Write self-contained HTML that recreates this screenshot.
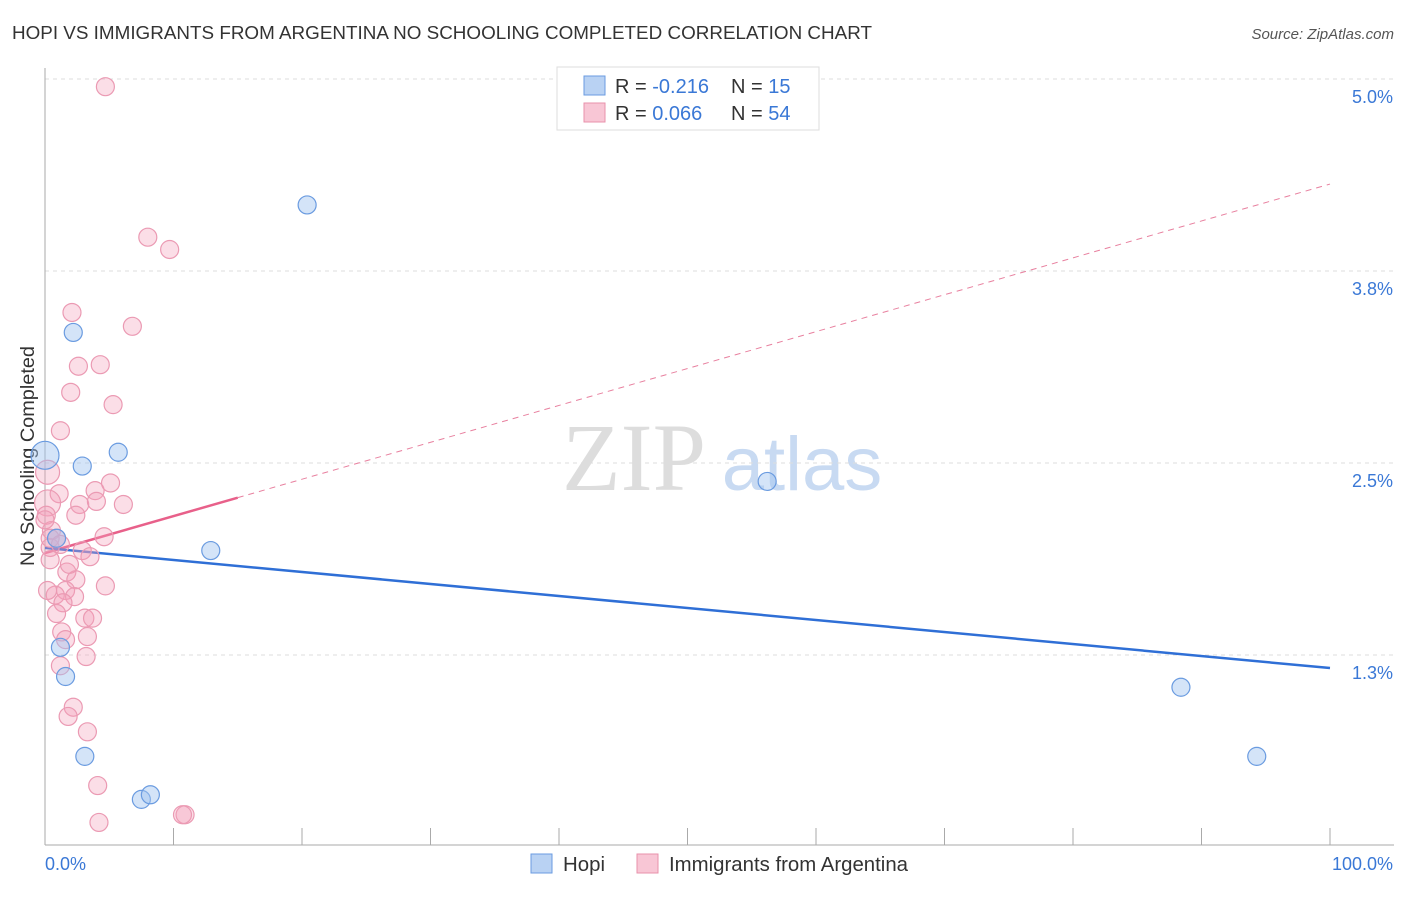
<!DOCTYPE html>
<html><head><meta charset="utf-8"><style>
body{margin:0;background:#fff;font-family:"Liberation Sans",sans-serif}
svg text{font-family:"Liberation Sans",sans-serif}
</style></head><body>
<svg id="c" width="1406" height="892" xmlns="http://www.w3.org/2000/svg">
<text x="12" y="39" font-size="18.5" fill="#333" textLength="860" lengthAdjust="spacingAndGlyphs">HOPI VS IMMIGRANTS FROM ARGENTINA NO SCHOOLING COMPLETED CORRELATION CHART</text>
<text x="1394" y="39" font-size="15" fill="#555" font-style="italic" text-anchor="end">Source: ZipAtlas.com</text>
<text transform="translate(34,456) rotate(-90)" font-size="19" fill="#333" text-anchor="middle" textLength="220" lengthAdjust="spacingAndGlyphs">No Schooling Completed</text>
<g><text x="634" y="490" font-size="96" fill="#ddd" font-family="Liberation Serif" text-anchor="middle" style="font-family:'Liberation Serif',serif">ZIP</text><text x="802" y="490" font-size="76" fill="#c8daf2" text-anchor="middle">atlas</text></g>
<g id="grid"></g><g id="axes"></g><g id="trend"></g><g id="pts"></g>
<g>
<rect x="557" y="67" width="262" height="63" fill="#fff" stroke="#ddd"/>
<rect x="584" y="76" width="21" height="19" fill="#b9d2f3" stroke="#6a9be0"/>
<rect x="584" y="103" width="21" height="19" fill="#f8c6d5" stroke="#e891ab"/>
<text x="615" y="93" font-size="20" fill="#333">R = <tspan fill="#3a78d6">-0.216</tspan><tspan x="731">N = </tspan><tspan fill="#3a78d6">15</tspan></text>
<text x="615" y="120" font-size="20" fill="#333">R = <tspan fill="#3a78d6"> 0.066</tspan><tspan x="731">N = </tspan><tspan fill="#3a78d6">54</tspan></text>
</g>
<g>
<rect x="531" y="854" width="21" height="19" fill="#b9d2f3" stroke="#6a9be0"/>
<text x="563" y="871" font-size="20" fill="#333" textLength="42" lengthAdjust="spacingAndGlyphs">Hopi</text>
<rect x="637" y="854" width="21" height="19" fill="#f8c6d5" stroke="#e891ab"/>
<text x="669" y="871" font-size="20" fill="#333" textLength="239" lengthAdjust="spacingAndGlyphs">Immigrants from Argentina</text>
</g>
</svg>
<script>
const hopiX=[20.4,2.2,5.7,2.9,0,0.9,12.9,56.2,1.2,1.6,3.1,7.5,8.2,88.4,94.3];
const hopiY=[4.18,3.35,2.57,2.48,2.55,2.01,1.93,2.38,1.30,1.11,0.59,0.31,0.34,1.04,0.59];
const hopiR=[9,9,9,9,14,9,9,9,9,9,9,9,9,9,9];
const argX=[4.7,8.0,9.7,2.1,6.8,2.6,4.3,2.0,5.3,1.2,0.2,1.1,3.9,5.1,2.7,0.2,2.4,4.0,6.1,0.1,0.5,0.4,4.6,2.9,0.9,3.5,1.7,2.4,1.6,2.3,0.8,1.4,0.9,4.7,3.1,3.7,1.3,3.3,1.6,1.2,3.2,2.2,1.8,3.3,4.1,4.2,10.9,10.7,0.4,1.2,0,0.4,0.2,1.9];
const argY=[4.95,3.97,3.89,3.48,3.39,3.13,3.14,2.96,2.88,2.71,2.44,2.30,2.32,2.37,2.23,2.24,2.16,2.25,2.23,2.16,2.06,1.95,2.02,1.93,2.01,1.89,1.79,1.74,1.67,1.63,1.64,1.59,1.52,1.70,1.49,1.49,1.40,1.37,1.35,1.18,1.24,0.91,0.85,0.75,0.40,0.16,0.21,0.21,2.01,1.97,2.13,1.87,1.67,1.84];
const argR=[9,9,9,9,9,9,9,9,9,9,12,9,9,9,9,13,9,9,9,9,9,9,9,9,9,9,9,9,9,9,9,9,9,9,9,9,9,9,9,9,9,9,9,9,9,9,9,9,9,9,9,9,9,9];
const yTicks=[5.0,3.75,2.5,1.25];
const yTickLabels=["5.0%","3.8%","2.5%","1.3%"];
const hopiTrend=[1.947,1.165];
const argTrend=[1.914,4.316];
const argSolidEnd=15;
const X=v=>45+v*12.85, Y=v=>463-(v-2.5)*153.6;
const NS="http://www.w3.org/2000/svg";
function mk(p,t,a){const e=document.createElementNS(NS,t);for(const k in a)e.setAttribute(k,a[k]);document.getElementById(p).appendChild(e);return e;}
yTicks.forEach((v,i)=>{
 const l=mk('grid','line',{x1:45,x2:1394,y1:Y(v),y2:Y(v),stroke:'#ddd','stroke-dasharray':'4,4'});
 
 
 const t=mk('grid','text',{x:1393,y:Y(v)+24,'font-size':18,fill:'#3a78d6','text-anchor':'end'});t.textContent=yTickLabels[i];
 
 
});
let a=mk('axes','line',{x1:45,x2:45,y1:68,y2:845,stroke:'#aaa'});


a=mk('axes','line',{x1:45,x2:1394,y1:845,y2:845,stroke:'#aaa'});


for(let i=0;i<=10;i++){const t=mk('axes','line',{x1:X(i*10),x2:X(i*10),y1:828,y2:845,stroke:'#aaa'});
 
 }
let t=mk('axes','text',{x:45,y:870,'font-size':18,fill:'#3a78d6'});t.textContent='0.0%';


t=mk('axes','text',{x:1393,y:870,'font-size':18,fill:'#3a78d6','text-anchor':'end'});t.textContent='100.0%';


argX.forEach((x,i)=>{const c=mk('pts','circle',{cx:X(x),cy:Y(argY[i]),r:argR[i],fill:'rgba(244,160,186,0.35)',stroke:'#eb9ab3','stroke-width':1.2});
 
 });
hopiX.forEach((x,i)=>{const c=mk('pts','circle',{cx:X(x),cy:Y(hopiY[i]),r:hopiR[i],fill:'rgba(160,196,240,0.45)',stroke:'#6a9be0','stroke-width':1.2});
 
 });
const ay=p=>argTrend[0]+(argTrend[1]-argTrend[0])*p/100;
let l=mk('trend','line',{x1:X(argSolidEnd),y1:Y(ay(argSolidEnd)),x2:X(100),y2:Y(argTrend[1]),stroke:'#e8809f','stroke-width':1,'stroke-dasharray':'6,5'});


l=mk('trend','line',{x1:X(0),y1:Y(argTrend[0]),x2:X(argSolidEnd),y2:Y(ay(argSolidEnd)),stroke:'#e8608a','stroke-width':2.5});


l=mk('trend','line',{x1:X(0),y1:Y(hopiTrend[0]),x2:X(100),y2:Y(hopiTrend[1]),stroke:'#2f6fd6','stroke-width':2.5});


</script>
</body></html>
